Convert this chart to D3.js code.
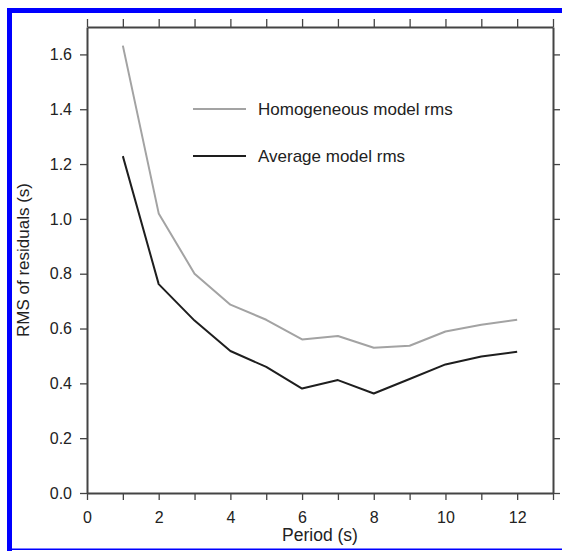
<!DOCTYPE html>
<html><head><meta charset="utf-8">
<script src="https://cdn.jsdelivr.net/npm/d3@7"></script>
<style>body{margin:0;background:#fff}svg{display:block}</style>
</head><body>
<script>
const periods = [1,2,3,4,5,6,7,8,9,10,11,12];
const homogeneousRms = [1.632,1.02,0.80,0.687,0.632,0.56,0.573,0.53,0.537,0.589,0.614,0.632];
const averageRms = [1.229,0.762,0.629,0.518,0.460,0.381,0.412,0.363,0.416,0.469,0.498,0.515];
const xTickLabels = [0,2,4,6,8,10,12];
const yTickLabels = [0,0.2,0.4,0.6,0.8,1.0,1.2,1.4,1.6];
const seriesNames = ["Homogeneous model rms","Average model rms"];

const W=562,H=551;
const svg=d3.select("body").append("svg").attr("width",W).attr("height",H);
// blue frame
svg.append("rect").attr("x",7).attr("y",8).attr("width",W-7).attr("height",5).attr("fill","#0000ff");
svg.append("rect").attr("x",7).attr("y",8).attr("width",5).attr("height",H-8).attr("fill","#0000ff");
svg.append("rect").attr("x",7).attr("y",548.5).attr("width",W-7).attr("height",1.5).attr("fill","#0000ff");

const L=87,R=553,T=27,B=493;
const x=d3.scaleLinear().domain([0,13]).range([L,R]);
const y=d3.scaleLinear().domain([0,1.7]).range([B,T]);
const font="'Liberation Sans', Arial, Helvetica, sans-serif";
const axisCol="#444";

function style(g){
  g.select(".domain").attr("stroke",axisCol).attr("stroke-width",2);
  g.selectAll(".tick line").attr("stroke",axisCol).attr("stroke-width",1.3);
  g.selectAll(".tick text").attr("font-family",font).attr("font-size",16).attr("fill","#222");
}
const xInts=d3.range(0,14);
svg.append("g").attr("transform",`translate(0,${B})`)
  .call(d3.axisBottom(x).tickValues(xInts).tickSize(7).tickPadding(12).tickSizeOuter(0)
    .tickFormat(d=>xTickLabels.includes(d)?d:""))
  .call(style);
svg.append("g").attr("transform",`translate(0,${T})`)
  .call(d3.axisTop(x).tickValues(xInts).tickSize(8).tickFormat("").tickSizeOuter(0))
  .call(style);
svg.append("g").attr("transform",`translate(${L},0)`)
  .call(d3.axisLeft(y).tickValues(yTickLabels).tickSize(7).tickPadding(8).tickSizeOuter(0).tickFormat(d3.format(".1f")))
  .call(style);
svg.append("g").attr("transform",`translate(${R},0)`)
  .call(d3.axisRight(y).tickValues(yTickLabels).tickSize(7).tickFormat("").tickSizeOuter(0))
  .call(style);

const line=d3.line().x((d,i)=>x(periods[i])).y(d=>y(d));
const colors=["#a3a3a3","#1e1e1e"];
[homogeneousRms,averageRms].forEach((s,k)=>{
  svg.append("path").datum(s).attr("d",line).attr("fill","none")
    .attr("stroke",colors[k]).attr("stroke-width",2).attr("stroke-linejoin","round");
});

// legend
const legY=[109,156];
seriesNames.forEach((n,k)=>{
  svg.append("line").attr("x1",193).attr("x2",246).attr("y1",legY[k]).attr("y2",legY[k])
    .attr("stroke",colors[k]).attr("stroke-width",2);
  svg.append("text").attr("x",258).attr("y",legY[k]).attr("dy","0.35em")
    .attr("font-family",font).attr("font-size",17).attr("fill","#222").text(n);
});

svg.append("text").attr("x",(L+R)/2).attr("y",541).attr("text-anchor","middle")
  .attr("font-family",font).attr("font-size",17.5).attr("fill","#222").text("Period (s)");
svg.append("text").attr("transform",`translate(29,${(T+B)/2}) rotate(-90)`).attr("text-anchor","middle")
  .attr("font-family",font).attr("font-size",17).attr("fill","#222").text("RMS of residuals (s)");
</script>
</body></html>
